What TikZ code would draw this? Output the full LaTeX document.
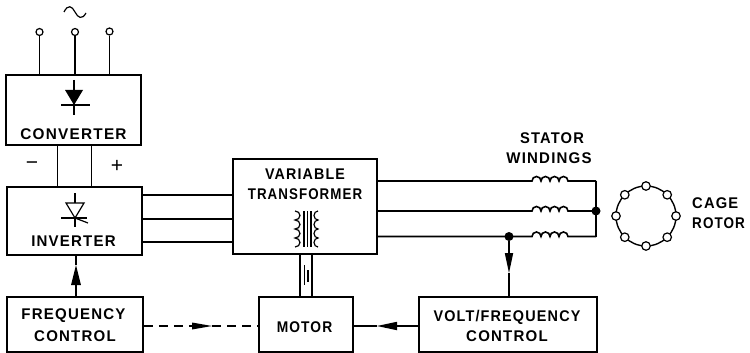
\documentclass[tikz,border=0pt]{standalone}
\usepackage{graphicx}
\usepackage{fontspec}
\setmainfont{Liberation Sans}[LetterSpace=8]
\usetikzlibrary{arrows.meta,calc}
\newcommand{\squeezed}[2]{\scalebox{#1}[1]{#2}}
\tikzset{
  x=1pt,y=-1pt,
  wire/.style={line width=1.6pt,line cap=butt},
  boxnode/.style={draw,line width=1.7pt,inner sep=0pt,minimum width=#1},
  lab/.style={font=\fontsize{15.5}{15.5}\selectfont\bfseries,inner sep=0pt,anchor=center},
  term/.style={circle,draw,fill=white,line width=1.2pt,inner sep=0pt,minimum size=7pt},
  junction/.style={circle,fill=black,inner sep=0pt,minimum size=9pt},
  headed/.style={-{Triangle[length=20pt,width=#1]}},
  sym/.style={line width=1.2pt}
}
\begin{document}
\begin{tikzpicture}
\useasboundingbox (0,0) rectangle (750,353);
% boxes
\node[boxnode=135,minimum height=70] (conv) at (73.5,110) {};
\node[boxnode=135,minimum height=68] (inv) at (74.5,221) {};
\node[boxnode=136,minimum height=55] (freq) at (75,324.5) {};
\node[boxnode=144,minimum height=95] (vt) at (305,206.5) {};
\node[boxnode=94,minimum height=55] (motor) at (306,324.5) {};
\node[boxnode=178,minimum height=55] (vfc) at (508,324.5) {};
% labels
\node[lab] (tconv) at (73.5,134) {\squeezed{.99}{CONVERTER}};
\node[lab] (tinv) at (73.5,241) {\squeezed{.97}{INVERTER}};
\node[lab] (tf1) at (73.5,316) {\squeezed{.97}{FREQUENCY}};
\node[lab] (tf2) at (75,336) {\squeezed{.97}{CONTROL}};
\node[lab] (tv1) at (305,174) {\squeezed{.92}{VARIABLE}};
\node[lab] (tv2) at (305,194) {\squeezed{.86}{TRANSFORMER}};
\node[lab] (tm) at (304.5,327) {\squeezed{.89}{MOTOR}};
\node[lab] (tf3) at (507,317) {\squeezed{.93}{VOLT/FREQUENCY}};
\node[lab] (tf4) at (507,336) {\squeezed{.97}{CONTROL}};
\node[lab] (ts1) at (552,138) {\squeezed{.95}{STATOR}};
\node[lab] (ts2) at (549,158) {\squeezed{.97}{WINDINGS}};
\node[lab,anchor=west] (tc1) at (692,203) {\squeezed{.95}{CAGE}};
\node[lab,anchor=west] (tc2) at (692,223) {\squeezed{.87}{ROTOR}};
\node[font=\fontsize{21}{21}\selectfont,inner sep=0pt] (minus) at (32,166) {−};
\node[font=\fontsize{21}{21}\selectfont,inner sep=0pt] (plus) at (117,166) {+};
% supply
\draw[line width=1.2pt] (64,12) .. controls (68,4) and (72,6) .. (75,12) .. controls (78,18) and (82,20) .. (86,13);
\node[term] (t1) at (39.5,32) {};
\node[term] (t2) at (75,32) {};
\node[term] (t3) at (109.5,31.5) {};
\foreach \t in {t1,t2,t3} \draw[wire] (\t) -- (\t |- conv.north);
% converter to inverter
\coordinate (dcm) at (57.5,165);
\coordinate (dcp) at (91.5,165);
\draw[wire] (dcm |- conv.south) -- (dcm |- inv.north);
\draw[wire] (dcp |- conv.south) -- (dcp |- inv.north);
% diode
\draw[sym] (74,80) -- (74,115);
\draw[line width=1.4pt] (61,105) -- (90,105);
\fill (65,90) -- (83,90) -- (74,105) -- cycle;
% thyristor
\draw[sym] (75,193) -- (75,203);
\draw[line width=1.2pt,line join=miter] (66,203) -- (84,203) -- (75,218) -- cycle;
\draw[line width=1.4pt] (61,218) -- (87,218);
\draw[sym] (75,218) -- (75,227);
\draw[sym] (75,218) -- (88,223);
% inverter to transformer
\foreach \i/\yy in {1/195,2/219,3/242}{
  \coordinate (w\i) at (190,\yy);
  \draw[wire] (inv.east |- w\i) -- (vt.west |- w\i);
}
% freq to inverter
\coordinate (fa) at (76,265);
\draw[wire,headed=9.5pt] (fa |- freq.north) -- (fa);
\draw[wire] (fa) -- (fa |- inv.south);
% dashed link
\coordinate (da) at (212,326);
\coordinate (db) at (192,326);
\draw[wire,dash pattern=on 9pt off 6pt] (freq.east |- da) -- (db);
\draw[line width=0pt,headed=7pt] (db) -- (da);
\draw[wire,dash pattern=on 9pt off 6pt] (da) -- (motor.west |- da);
% transformer symbol
\draw[sym] (295,211) \foreach \k in {1,...,4}{ arc[start angle=90,end angle=-90,x radius=5pt,y radius=4.5pt] };
\draw[sym] (318,211) \foreach \k in {1,...,4}{ arc[start angle=90,end angle=270,x radius=4pt,y radius=4.5pt] };
\foreach \xx in {304,307.5,311} \draw[sym] (\xx,211) -- (\xx,247);
% shaft
\coordinate (s1) at (300,275);
\coordinate (s2) at (312,275);
\draw[wire] (s1 |- vt.south) -- (s1 |- motor.north);
\draw[wire] (s2 |- vt.south) -- (s2 |- motor.north);
\draw[sym] (304.5,265) -- (304.5,285);
\draw[sym] (308,270) -- (308,282);
% stator windings
\node[junction] (jstar) at (596,211) {};
\node[junction] (jtap) at (509,236.5) {};
\foreach \i/\yy in {1/181,2/211,3/236.5}{
  \coordinate (c\i) at (532,\yy);
  \draw[wire] (vt.east |- c\i) -- (c\i)
     \foreach \k in {1,...,4}{ arc[start angle=180,end angle=0,x radius=4.5pt,y radius=4.5pt] }
     -- (jstar |- c\i);
}
\draw[wire] (jstar |- c1) -- (jstar |- c3);
% tap to volt/frequency control
\coordinate (ta) at (509,253);
\coordinate (tb) at (509,273);
\draw[wire] (jtap) -- (ta);
\draw[line width=0pt,headed=8.5pt] (ta) -- (tb);
\draw[wire] (tb) -- (tb |- vfc.north);
% volt/frequency control to motor
\coordinate (va) at (397,326);
\coordinate (vb) at (377,326);
\draw[wire] (vfc.west |- va) -- (va);
\draw[line width=0pt,headed=8.5pt] (va) -- (vb);
\draw[wire] (vb) -- (motor.east |- vb);
% cage rotor
\coordinate (rc) at (646,216);
\draw[line width=1.4pt] (rc) circle[radius=30pt];
\foreach \a in {0,45,...,315}
  \node[term,minimum size=8.5pt] (r\a) at ($(rc)+(\a:30pt)$) {};
\end{tikzpicture}
\end{document}
